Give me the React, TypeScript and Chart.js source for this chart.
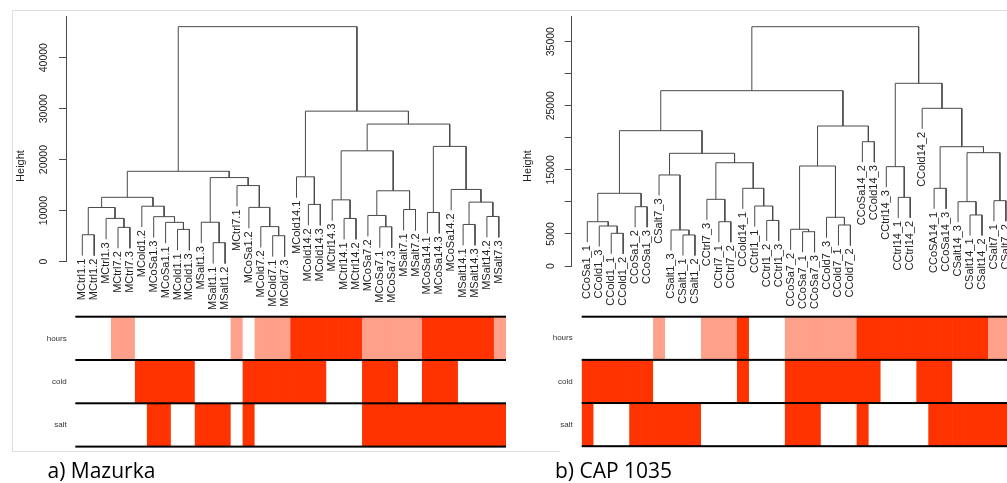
import React, { useEffect, useRef } from "react";
import { Chart, registerables } from "chart.js";
Chart.register(...registerables);

type Merge = [number, number, number];

// ---------------- a) Mazurka ----------------
const leavesA = [
  "MCtrl1.1", "MCtrl1.2", "MCtrl1.3", "MCtrl7.2", "MCtrl7.3", "MCold1.2", "MCoSa1.3", "MCoSa1.1", "MCold1.1",
  "MCold1.3", "MSalt1.3", "MSalt1.1", "MSalt1.2", "MCtrl7.1", "MCoSa1.2", "MCold7.2", "MCold7.1", "MCold7.3",
  "MCold14.1", "MCold14.2", "MCold14.3", "MCtrl14.3", "MCtrl14.1", "MCtrl14.2", "MCoSa7.2", "MCoSa7.1", "MCoSa7.3",
  "MSalt7.1", "MSalt7.2", "MCoSa14.1", "MCoSa14.3", "MCoSa14.2", "MSalt14.1", "MSalt14.3", "MSalt14.2", "MSalt7.3",
];
// hclust-style merges: negative = leaf (1-based position), positive = earlier merge row; third = height
const mergesA: Merge[] = [
  [-12, -13, 3690], [-17, -18, 5060], [-1, -2, 5250], [-9, -10, 6300], [-4, -5, 6700],
  [-16, 2, 6850], [-26, -27, 6810], [-33, -34, 7270], [-8, 4, 7680], [-11, 1, 7700],
  [-3, 5, 8460], [-7, 9, 8800], [-35, -36, 8840], [-23, -24, 8450], [-25, 7, 9035],
  [-30, -31, 9620], [-28, -29, 10210], [3, 11, 10600], [-15, 6, 10620], [-6, 12, 10850],
  [-20, -21, 11200], [8, 13, 11650], [-22, 14, 12100], [18, 20, 12600], [15, 17, 13880],
  [-32, 22, 14140], [-14, 19, 14900], [10, 27, 16470], [-19, 21, 16620], [24, 28, 17700],
  [23, 25, 21720], [16, 26, 22590], [31, 32, 26970], [29, 33, 29510], [30, 34, 46090],
];
const hoursA = [0, 0, 0, 1, 1, 0, 0, 0, 0, 0, 0, 0, 0, 1, 0, 1, 1, 1, 2, 2, 2, 2, 2, 2, 1, 1, 1, 1, 1, 2, 2, 2, 2, 2, 2, 1];
const coldA = [0, 0, 0, 0, 0, 1, 1, 1, 1, 1, 0, 0, 0, 0, 1, 1, 1, 1, 1, 1, 1, 0, 0, 0, 1, 1, 1, 0, 0, 1, 1, 1, 0, 0, 0, 0];
const saltA = [0, 0, 0, 0, 0, 0, 1, 1, 0, 0, 1, 1, 1, 0, 1, 0, 0, 0, 0, 0, 0, 0, 0, 0, 1, 1, 1, 1, 1, 1, 1, 1, 1, 1, 1, 1];
const yTicksA = [0, 10000, 20000, 30000, 40000];
const yTickLabelsA = ["0", "10000", "20000", "30000", "40000"];

// ---------------- b) CAP 1035 ----------------
const leavesB = [
  "CCoSa1_1", "CCold1_3", "CCold1_1", "CCold1_2", "CCoSa1_2", "CCoSa1_3", "CSalt7_3", "CSalt1_3", "CSalt1_1",
  "CSalt1_2", "CCtrl7_3", "CCtrl7_1", "CCtrl7_2", "CCold14_1", "CCtrl1_1", "CCtrl1_2", "CCtrl1_3", "CCoSa7_2",
  "CCoSa7_1", "CCoSa7_3", "CCold7_3", "CCold7_1", "CCold7_2", "CCoSa14_2", "CCold14_3", "CCtrl14_3", "CCtrl14_1",
  "CCtrl14_2", "CCold14_2", "CCoSA14_1", "CCoSa14_3", "CSalt14_3", "CSalt14_1", "CSalt14_2", "CSalt7_1", "CSalt7_2",
];
const mergesB: Merge[] = [
  [-9, -10, 4840], [-3, -4, 5100], [-19, -20, 5350], [-8, 1, 5620], [-18, 3, 5730],
  [-2, 2, 6240], [-22, -23, 6400], [-1, 6, 6910], [-12, -13, 6910], [-16, -17, 7110],
  [-21, 7, 7600], [-33, -34, 7960], [-5, -6, 9250], [-15, 10, 9360], [-32, 12, 10040],
  [-35, -36, 10190], [-11, 9, 10400], [-27, -28, 10710], [8, 13, 11340], [-30, -31, 12120],
  [-14, 14, 12120], [-7, 4, 14200], [-26, 18, 15500], [5, 11, 15600], [17, 21, 16110],
  [15, 16, 17680], [22, 25, 17580], [-24, -25, 19390], [20, 26, 18610], [19, 27, 21110],
  [24, 28, 21840], [-29, 29, 24600], [30, 31, 27350], [23, 32, 28500], [33, 34, 37330],
];
const hoursB = [0, 0, 0, 0, 0, 0, 1, 0, 0, 0, 1, 1, 1, 2, 0, 0, 0, 1, 1, 1, 1, 1, 1, 2, 2, 2, 2, 2, 2, 2, 2, 2, 2, 2, 1, 1];
const coldB = [1, 1, 1, 1, 1, 1, 0, 0, 0, 0, 0, 0, 0, 1, 0, 0, 0, 1, 1, 1, 1, 1, 1, 1, 1, 0, 0, 0, 1, 1, 1, 0, 0, 0, 0, 0];
const saltB = [1, 0, 0, 0, 1, 1, 1, 1, 1, 1, 0, 0, 0, 0, 0, 0, 0, 1, 1, 1, 0, 0, 0, 1, 0, 0, 0, 0, 0, 1, 1, 1, 1, 1, 1, 1];
const yTicksB = [0, 5000, 10000, 15000, 20000, 25000, 30000, 35000];
const yTickLabelsB = ["0", "5000", "", "15000", "", "25000", "", "35000"];

const rowNames = ["salt", "cold", "hours"]; // bottom -> top
const hoursPalette = ["#FFFFFF", "#FFA08A", "#FF3300"];
const binPalette = ["#FFFFFF", "#FF3300"];

const LINE = "#4a4a4a";
const FONT = '"Liberation Sans", Arial, Helvetica, sans-serif';

type PanelCfg = {
  leaves: string[];
  merges: Merge[];
  hang: number;
  hours: number[];
  cold: number[];
  salt: number[];
  yTicks: number[];
  yTickLabels: string[];
  yMax: number;
  left: number;
  width: number;
  axisX: number;
  plotRight: number;
  leaf0: number;
  leafStep: number;
  zeroY: number;
  tickFont: number;
  tickOffset: number;
  titleOffset: number;
  heatLeft: number;
  labelPad: number;
};

function buildTree(merges: Merge[], hang: number) {
  const nodeX: number[] = [];
  const segments: { x: number; y: number }[][] = [];
  const tips: number[] = [];
  merges.forEach(([a, b, h], i) => {
    const child = (c: number) => {
      if (c < 0) {
        const idx = -c - 1;
        tips[idx] = h - hang;
        return { x: idx, y: h - hang };
      }
      return { x: nodeX[c - 1], y: merges[c - 1][2] };
    };
    const A = child(a);
    const B = child(b);
    segments.push([
      { x: A.x, y: A.y },
      { x: A.x, y: h },
      { x: B.x, y: h },
      { x: B.x, y: B.y },
    ]);
    nodeX[i] = (A.x + B.x) / 2;
  });
  return { segments, tips };
}

const DENDRO_H = 320;
const HEAT_TOP = 300;
const HEAT_H = 160;

function Dendrogram({ cfg }: { cfg: PanelCfg }) {
  const ref = useRef<HTMLCanvasElement>(null);
  useEffect(() => {
    const { segments, tips } = buildTree(cfg.merges, cfg.hang);
    const xMin = -(cfg.leaf0 - cfg.axisX) / cfg.leafStep;
    const xMax = (cfg.plotRight - cfg.leaf0) / cfg.leafStep;
    const textPlugin = {
      id: "dendroText",
      afterDraw(chart: any) {
        const { ctx } = chart;
        const xs = chart.scales.x;
        const ys = chart.scales.y;
        ctx.save();
        ctx.fillStyle = "#222";
        ctx.font = `11px ${FONT}`;
        ctx.textAlign = "right";
        ctx.textBaseline = "middle";
        cfg.leaves.forEach((name, i) => {
          const px = xs.getPixelForValue(i);
          const py = ys.getPixelForValue(tips[i]) + 3;
          ctx.save();
          ctx.translate(px, py);
          ctx.rotate(-Math.PI / 2);
          ctx.fillText(name, 0, 0);
          ctx.restore();
        });
        ctx.textAlign = "center";
        ctx.font = `${cfg.tickFont}px ${FONT}`;
        cfg.yTicks.forEach((v, i) => {
          const lab = cfg.yTickLabels[i];
          if (!lab) return;
          const py = ys.getPixelForValue(v);
          ctx.save();
          ctx.translate(ys.right - cfg.tickOffset, py);
          ctx.rotate(-Math.PI / 2);
          ctx.fillText(lab, 0, 0);
          ctx.restore();
        });
        ctx.font = `11px ${FONT}`;
        ctx.save();
        ctx.translate(ys.right - cfg.titleOffset, 166);
        ctx.rotate(-Math.PI / 2);
        ctx.fillText("Height", 0, 0);
        ctx.restore();
        ctx.restore();
      },
    };
    const chart = new Chart(ref.current as HTMLCanvasElement, {
      type: "line",
      data: {
        datasets: segments.map((s) => ({
          data: s,
          borderColor: LINE,
          borderWidth: 1,
          pointRadius: 0,
          tension: 0,
          clip: false as any,
          fill: false,
        })),
      },
      options: {
        animation: false,
        responsive: false,
        events: [],
        layout: {
          padding: { left: 0, top: 16, right: cfg.width - cfg.plotRight, bottom: DENDRO_H - cfg.zeroY },
        },
        plugins: { legend: { display: false }, tooltip: { enabled: false } },
        scales: {
          x: { type: "linear", display: false, min: xMin, max: xMax },
          y: {
            type: "linear",
            min: 0,
            max: cfg.yMax,
            afterBuildTicks: (s: any) => {
              s.ticks = cfg.yTicks.map((v) => ({ value: v }));
            },
            afterFit: (s: any) => {
              s.width = cfg.axisX;
            },
            ticks: { display: false },
            grid: { drawOnChartArea: false, drawTicks: true, tickLength: 7, color: LINE, lineWidth: 1 },
            border: { display: true, color: LINE, width: 1 },
          },
        },
      } as any,
      plugins: [textPlugin],
    });
    return () => chart.destroy();
  }, [cfg]);
  return (
    <canvas
      ref={ref}
      width={cfg.width}
      height={DENDRO_H}
      style={{ position: "absolute", left: cfg.left, top: 0, width: cfg.width, height: DENDRO_H }}
    />
  );
}

function Heatmap({ cfg }: { cfg: PanelCfg }) {
  const ref = useRef<HTMLCanvasElement>(null);
  useEffect(() => {
    const rowLines = {
      id: "rowLines",
      afterDatasetsDraw(chart: any) {
        const { ctx, chartArea } = chart;
        const ys = chart.scales.y;
        ctx.save();
        ctx.fillStyle = "#000";
        [0, 1, 2, 3].forEach((v) => {
          const py = ys.getPixelForValue(v);
          ctx.fillRect(chartArea.left, py - 1, chartArea.right - chartArea.left, 2);
        });
        ctx.restore();
      },
    };
    const chart = new Chart(ref.current as HTMLCanvasElement, {
      type: "bar",
      data: {
        labels: cfg.leaves,
        datasets: [
          { label: "salt", data: cfg.salt.map(() => [0, 1]), colors: cfg.salt.map((v) => binPalette[v]) },
          { label: "cold", data: cfg.cold.map(() => [1, 2]), colors: cfg.cold.map((v) => binPalette[v]) },
          { label: "hours", data: cfg.hours.map(() => [2, 3]), colors: cfg.hours.map((v) => hoursPalette[v]) },
        ].map((d) => ({
          label: d.label,
          data: d.data,
          backgroundColor: d.colors,
          borderColor: d.colors,
          borderWidth: 0.8,
          borderSkipped: false,
          inflateAmount: 0.4,
          grouped: false,
          barPercentage: 1,
          categoryPercentage: 1,
        })),
      },
      options: {
        animation: false,
        responsive: false,
        events: [],
        layout: { padding: { left: 0, top: 16.7, right: cfg.width - cfg.plotRight, bottom: HEAT_H - 148 } },
        plugins: { legend: { display: false }, tooltip: { enabled: false } },
        scales: {
          x: { type: "category", display: false, offset: true },
          y: {
            type: "linear",
            min: 0,
            max: 3,
            afterBuildTicks: (s: any) => {
              s.ticks = [0.5, 1.5, 2.5].map((v) => ({ value: v }));
            },
            afterFit: (s: any) => {
              s.width = cfg.heatLeft;
            },
            ticks: {
              padding: cfg.labelPad,
              color: "#333",
              font: { size: 8, family: FONT },
              callback: (v: any) => rowNames[Math.floor(Number(v))],
            },
            grid: { display: false, drawTicks: false },
            border: { display: false },
          },
        },
      } as any,
      plugins: [rowLines],
    });
    return () => chart.destroy();
  }, [cfg]);
  return (
    <canvas
      ref={ref}
      width={cfg.width}
      height={HEAT_H}
      style={{ position: "absolute", left: cfg.left, top: HEAT_TOP, width: cfg.width, height: HEAT_H }}
    />
  );
}

const panelA: PanelCfg = {
  leaves: leavesA, merges: mergesA, hang: 4100, hours: hoursA, cold: coldA, salt: saltA,
  yTicks: yTicksA, yTickLabels: yTickLabelsA, yMax: 48180,
  left: 0, width: 520, axisX: 66, plotRight: 506, leaf0: 82.3, leafStep: 11.9, zeroY: 261.5,
  tickFont: 10.5, tickOffset: 22, titleOffset: 45, heatLeft: 75.3, labelPad: 8.6,
};
const panelB: PanelCfg = {
  leaves: leavesB, merges: mergesB, hang: 3200, hours: hoursB, cold: coldB, salt: saltB,
  yTicks: yTicksB, yTickLabels: yTickLabelsB, yMax: 39000,
  left: 505, width: 515, axisX: 66.7, plotRight: 507.3, leaf0: 82.3, leafStep: 11.96, zeroY: 266,
  tickFont: 10.5, tickOffset: 21, titleOffset: 43.5, heatLeft: 76.7, labelPad: 9,
};

const captionStyle: React.CSSProperties = {
  position: "absolute",
  top: 460.3,
  fontFamily: '"Open Sans", sans-serif',
  fontSize: 21,
  lineHeight: "21px",
  color: "#000",
  whiteSpace: "nowrap",
};

export default function App() {
  return (
    <div
      style={{
        position: "fixed",
        left: 0,
        top: 0,
        width: 1007,
        height: 483,
        overflow: "hidden",
        background: "#fff",
      }}
    >
      <div style={{ position: "absolute", left: 12, top: 10, width: 995, height: 0, borderTop: "1px solid #dedede" }} />
      <div style={{ position: "absolute", left: 12, top: 10, width: 0, height: 441, borderLeft: "1px solid #dedede" }} />
      <div style={{ position: "absolute", left: 12, top: 451, width: 548, height: 0, borderTop: "1px solid #dedede" }} />
      <Dendrogram cfg={panelA} />
      <Heatmap cfg={panelA} />
      <Dendrogram cfg={panelB} />
      <Heatmap cfg={panelB} />
      <div style={{ ...captionStyle, left: 47.5 }}>a) Mazurka</div>
      <div style={{ ...captionStyle, left: 555 }}>b) CAP 1035</div>
    </div>
  );
}
